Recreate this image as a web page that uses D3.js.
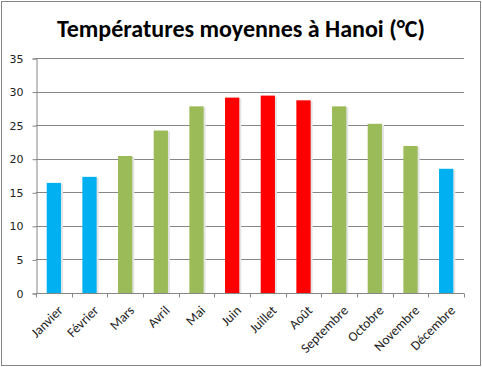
<!DOCTYPE html>
<html>
<head>
<meta charset="utf-8">
<script src="https://cdn.jsdelivr.net/npm/d3@7"></script>
<style>
  body { margin: 0; background: #fff; }
  svg { display: block; }
</style>
</head>
<body>
<script>
// monthly mean temperatures, Hanoi
var months = ['Janvier', 'Février', 'Mars', 'Avril', 'Mai', 'Juin',
  'Juillet', 'Août', 'Septembre', 'Octobre', 'Novembre', 'Décembre'];
var temps = [16.4, 17.3, 20.4, 24.2, 27.8, 29.1, 29.4, 28.7, 27.8, 25.2, 21.9, 18.5];
var seasons = ['froid', 'froid', 'doux', 'doux', 'doux', 'chaud',
  'chaud', 'chaud', 'doux', 'doux', 'doux', 'froid'];
var yTicks = [0, 5, 10, 15, 20, 25, 30, 35];

var colors = { froid: '#00B0F0', doux: '#9BBB59', chaud: '#FF0000' };

var width = 482, height = 367;
var margin = { left: 36, right: 18, top: 58, bottom: 74 };

var svg = d3.select('body').append('svg')
  .attr('width', width)
  .attr('height', height);

svg.append('rect')
  .attr('x', 1.5).attr('y', 1.5)
  .attr('width', width - 3).attr('height', height - 3)
  .attr('fill', '#fff')
  .attr('stroke', '#868686');

svg.append('text')
  .attr('x', 241).attr('y', 37)
  .attr('text-anchor', 'middle')
  .style('font-family', 'Carlito, Calibri, "Open Sans", sans-serif')
  .style('font-weight', 'bold')
  .style('font-size', '24px')
  .attr('fill', '#000')
  .text('Températures moyennes à Hanoi (°C)');

var x = d3.scaleBand()
  .domain(months)
  .range([margin.left, width - margin.right])
  .paddingInner(0.6)
  .paddingOuter(0.3);

var y = d3.scaleLinear()
  .domain([0, 35])
  .range([height - margin.bottom, margin.top]);

// gridlines
svg.append('g')
  .selectAll('line')
  .data(yTicks.slice(1))
  .enter().append('line')
  .attr('x1', margin.left).attr('x2', width - margin.right)
  .attr('y1', function(d) { return Math.round(y(d)) + 0.5; })
  .attr('y2', function(d) { return Math.round(y(d)) + 0.5; })
  .attr('stroke', '#868686');

// y axis
var yAxis = svg.append('g')
  .attr('transform', 'translate(' + (margin.left + 0.5) + ',0.5)')
  .call(d3.axisLeft(y).tickValues(yTicks).tickSize(4).tickPadding(9));
yAxis.selectAll('path, line').attr('stroke', '#868686');
yAxis.selectAll('text')
  .style('font-family', '"DejaVu Sans", sans-serif')
  .style('font-size', '11px')
  .attr('fill', '#222');

// bar shadows then bars
var bars = svg.append('g');
bars.selectAll('rect.shadow')
  .data(temps)
  .enter().append('rect')
  .attr('class', 'shadow')
  .attr('x', function(d, i) { return x(months[i]) + 2; })
  .attr('y', function(d) { return y(d) + 1; })
  .attr('width', x.bandwidth())
  .attr('height', function(d) { return y(0) - y(d) - 1; })
  .attr('fill', '#e4e4e4');

bars.selectAll('rect.bar')
  .data(temps)
  .enter().append('rect')
  .attr('class', 'bar')
  .attr('x', function(d, i) { return x(months[i]); })
  .attr('y', function(d) { return y(d); })
  .attr('width', x.bandwidth())
  .attr('height', function(d) { return y(0) - y(d); })
  .attr('fill', function(d, i) { return colors[seasons[i]]; });

// x axis with ticks between categories
var xAxis = svg.append('g')
  .attr('transform', 'translate(0,' + (Math.round(y(0)) + 0.5) + ')');
xAxis.append('line')
  .attr('x1', margin.left).attr('x2', width - margin.right)
  .attr('stroke', '#868686');
var step = x.step();
xAxis.selectAll('line.tick')
  .data(d3.range(months.length + 1))
  .enter().append('line')
  .attr('class', 'tick')
  .attr('x1', function(i) { return Math.round(margin.left + i * step) + 0.5; })
  .attr('x2', function(i) { return Math.round(margin.left + i * step) + 0.5; })
  .attr('y1', 0).attr('y2', 4)
  .attr('stroke', '#868686');
xAxis.selectAll('text')
  .data(months)
  .enter().append('text')
  .attr('transform', function(d) {
    return 'translate(' + (x(d) + x.bandwidth() / 2 + 4) + ',12) rotate(-45)';
  })
  .attr('text-anchor', 'end')
  .attr('dy', '0.6em')
  .style('font-family', 'Carlito, Calibri, sans-serif')
  .style('font-size', '13.5px')
  .attr('fill', '#222')
  .text(function(d) { return d; });
</script>
</body>
</html>
